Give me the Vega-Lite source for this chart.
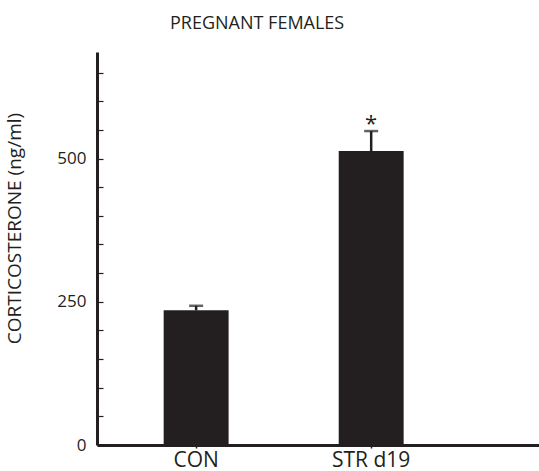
{
  "$schema": "https://vega.github.io/schema/vega-lite/v6.json",
  "width": 442,
  "height": 393,
  "autosize": {"type": "none"},
  "padding": {"left": 97, "top": 52, "right": 0, "bottom": 26},
  "background": "white",
  "config": {
    "view": {"stroke": null},
    "font": "Open Sans",
    "text": {"font": "Open Sans"},
    "axisY": {
      "titleFont": "Open Sans",
      "titleFontSize": 19,
      "titleFontWeight": "normal",
      "titleColor": "#231f20",
      "titleAngle": 270,
      "titleX": -83,
      "titleY": 176,
      "titleAlign": "center",
      "titleBaseline": "middle",
      "labelOverlap": false,
      "labelFont": "Open Sans",
      "labelFontSize": 17,
      "labelColor": "#231f20",
      "labelPadding": 17,
      "labelFlush": false,
      "grid": false,
      "domainColor": "#231f20",
      "domainWidth": 3,
      "tickColor": "#231f20",
      "tickSize": -6,
      "tickWidth": 1.2,
      "tickRound": true
    }
  },
  "title": {
    "text": "PREGNANT FEMALES",
    "anchor": "start",
    "frame": "group",
    "dx": 73,
    "offset": 19,
    "fontSize": 18,
    "fontWeight": "normal",
    "font": "Open Sans",
    "color": "#231f20"
  },
  "data": {
    "values": [
      {"group": "CON", "mean": 235, "upper": 243, "sig": ""},
      {"group": "STR d19", "mean": 513, "upper": 548, "sig": "*"}
    ]
  },
  "encoding": {
    "x": {
      "field": "group",
      "type": "nominal",
      "sort": null,
      "scale": {"paddingInner": 0.629, "paddingOuter": 0.577, "align": 0.33},
      "axis": {
        "title": null,
        "labelAngle": 0,
        "labelFont": "Open Sans",
        "labelFontSize": 21,
        "labelColor": "#231f20",
        "labelPadding": 1,
        "domainColor": "#231f20",
        "domainWidth": 3,
        "tickColor": "#231f20",
        "tickSize": 3,
        "tickWidth": 1.5
      }
    }
  },
  "layer": [
    {
      "mark": {"type": "bar", "color": "#231f20"},
      "encoding": {
        "y": {
          "field": "mean",
          "type": "quantitative",
          "scale": {"domain": [0, 686], "nice": false},
          "axis": {
            "title": "CORTICOSTERONE (ng/ml)",
            "values": [0, 50, 100, 150, 200, 250, 300, 350, 400, 450, 500, 550, 600, 650],
            "labelExpr": "datum.value == 0 || datum.value == 250 || datum.value == 500 ? datum.label : ''"
          }
        }
      }
    },
    {
      "mark": {"type": "rule", "color": "#231f20", "strokeWidth": 2.5},
      "encoding": {
        "y": {
          "field": "mean",
          "type": "quantitative",
          "axis": {
            "title": "CORTICOSTERONE (ng/ml)",
            "values": [0, 50, 100, 150, 200, 250, 300, 350, 400, 450, 500, 550, 600, 650],
            "labelExpr": "datum.value == 0 || datum.value == 250 || datum.value == 500 ? datum.label : ''"
          }
        },
        "y2": {"field": "upper"}
      }
    },
    {
      "mark": {"type": "tick", "color": "#231f20", "thickness": 2.5, "size": 14},
      "encoding": {
        "y": {
          "field": "upper",
          "type": "quantitative",
          "axis": {
            "title": "CORTICOSTERONE (ng/ml)",
            "values": [0, 50, 100, 150, 200, 250, 300, 350, 400, 450, 500, 550, 600, 650],
            "labelExpr": "datum.value == 0 || datum.value == 250 || datum.value == 500 ? datum.label : ''"
          }
        }
      }
    },
    {
      "mark": {"type": "text", "color": "#231f20", "fontSize": 22, "font": "Open Sans", "baseline": "alphabetic", "dy": 0},
      "encoding": {
        "y": {
          "field": "upper",
          "type": "quantitative",
          "axis": {
            "title": "CORTICOSTERONE (ng/ml)",
            "values": [0, 50, 100, 150, 200, 250, 300, 350, 400, 450, 500, 550, 600, 650],
            "labelExpr": "datum.value == 0 || datum.value == 250 || datum.value == 500 ? datum.label : ''"
          }
        },
        "text": {"field": "sig"}
      }
    }
  ]
}
